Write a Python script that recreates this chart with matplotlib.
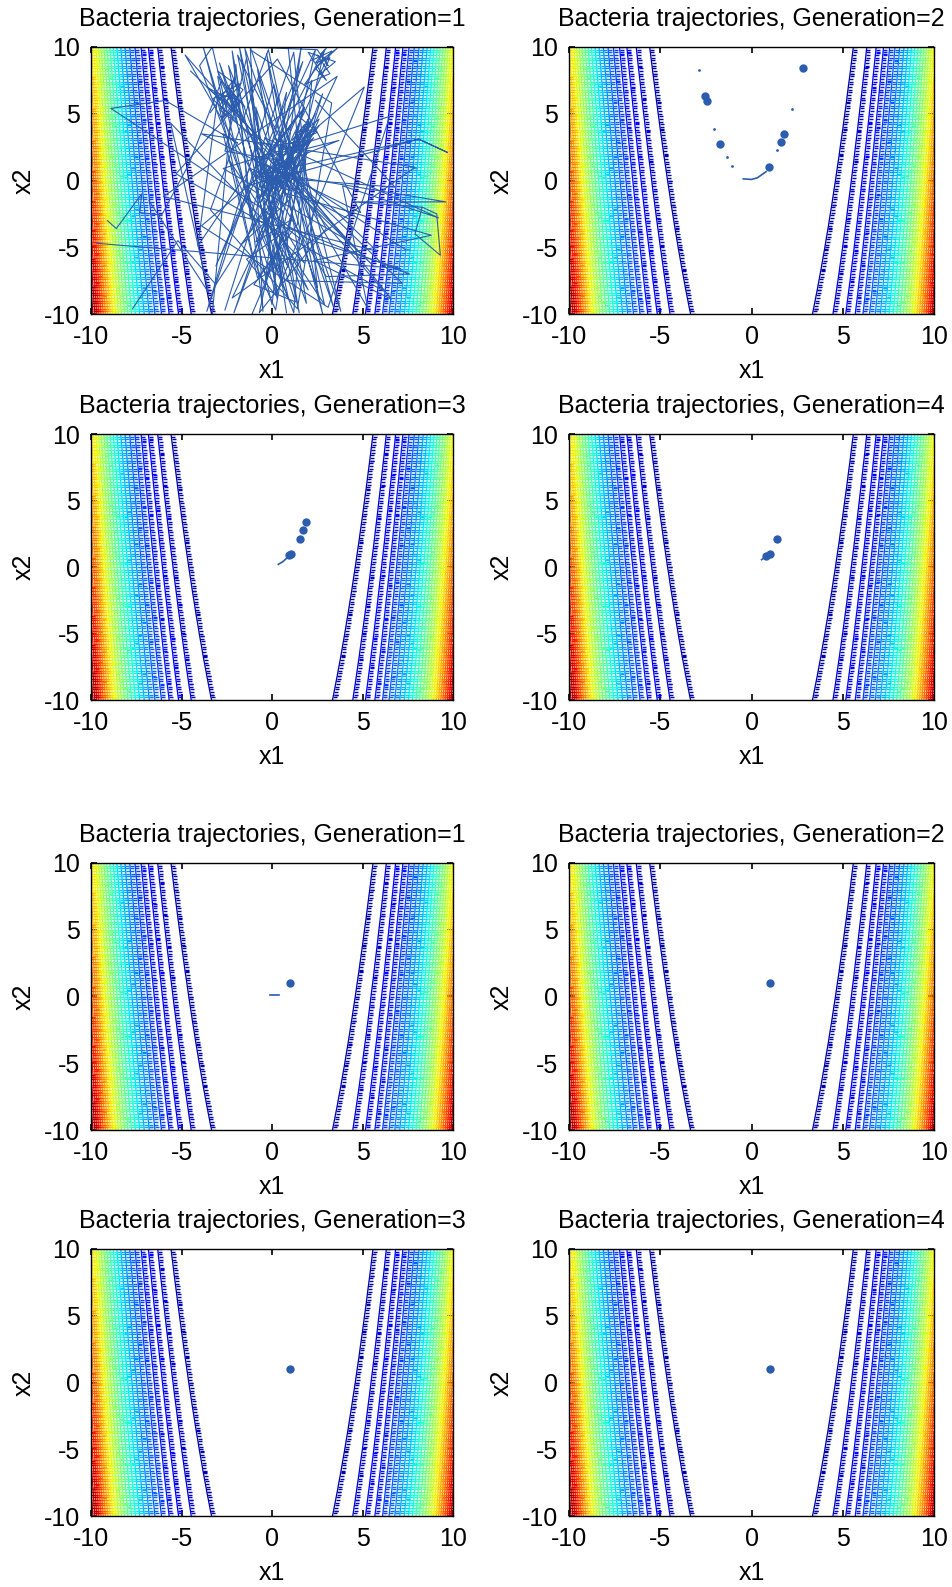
import numpy as np
import matplotlib.pyplot as plt
from matplotlib.path import Path
from matplotlib.colors import Normalize

plt.rcParams['font.family'] = ['Liberation Sans', 'DejaVu Sans']
plt.rcParams['font.size'] = 18
plt.rcParams['axes.unicode_minus'] = False

# Rosenbrock cost surface on the search domain
grid = np.arange(-10, 10.001, 0.2)
X1, X2 = np.meshgrid(grid, grid)
Z = 100 * (X2 - X1**2)**2 + (1 - X1)**2
levels = np.linspace(Z.min(), Z.max(), 28)[1:-1]

# run 1, generation 1: chemotactic paths of the bacteria
run1_gen1_x = [
    [-7.7, -5.2, -3.1, -0.6, 0.4, -0.8, 0.5, -0.3, 0.9, -0.6, 0.3, 1.1, -0.9, 0.6,
     -0.2, 0.8, -0.5, 0.2, 1.0, 2.1, 1.4, 2.4, 1.7, 0.8, 2.2, 1.3, 3.8, -1.2],
    [-9.1, -8.6, -7.2, -7.3, -6.1, -4.6, -2.8, -2.0, -3.2, -1.8, -2.6, -3.0, -1.5,
     -2.3, -2.9, -1.9, -2.4, -0.4, 0.1, -0.7, 2.9, 0.3, -1.1],
    [8.3, 9.1, 9.3, 7.9, 8.3, 4.5, 9.6, 1.2, -0.2, 0.6, 3.0, 7.6, 0.9, 1.9, 2.6,
     1.1, 1.8, -2.1, 0.4, 8.1, 9.7, 8.1, 0.5],
    [-1.6, 2.5, 3.1, 2.7, 3.0, 2.4, 3.2, 2.9, 0.7, -0.5, 0.3, -3.8, -2.5, -1.0,
     0.2, 1.5, 2.8, -0.3, 1.6, 0.4, -0.9, 5.6, 1.0],
    [-9.7, 7.1, 2.0, -8.9, -5.9, -1.9, -2.7, -0.8, 1.4, 1.8, 0.3, -4.0, -3.3, 0.0,
     0.6, -1.4, 1.6, 0.9],
    [-3.3, -2.0, -1.2, 0.8, -0.4, 1.3, -2.6, -1.4, -0.1, 1.2, 2.2, -0.6, 0.5, 3.7,
     -0.2, 1.0, -1.7, 2.0, 0.2, -0.9],
    [4.4, 0.1, -0.4, 0.9, -1.2, -4.1, -3.0, -2.1, -0.3, 0.7, -0.7, 1.9, 2.3, 1.5,
     1.1, 0.2, -0.6, 6.8, 2.4],
    [-1.2, -0.5, -2.2, 0.3, -1.8, 1.5, -0.8, 2.8, -0.3, 1.9, -2.9, 0.6, -1.5, 3.4,
     0.1, -3.6, 1.2, 2.5, -0.9, 0.8],
    [0.2, 1.6, 0.9, 2.0, 1.2, 2.3, 0.6, 1.8, -0.2, 1.4, 2.5, 0.4, 1.0, 2.1, -0.6,
     1.7, 0.8, 2.6, 1.3, -0.4, 0.5, 1.9, 0.0, 1.1],
    [-3.4, -2.1, -2.8, -1.6, -3.0, -2.2, -1.3, -2.7, -3.6, -1.9, -2.4, -0.9, -2.9,
     -1.7, -3.3, -2.0],
    [0.4, -0.9, 1.1, -0.3, 0.7, -1.4, 0.2, 1.5, -0.6, 0.9, -0.1, 1.3, -1.0, 0.5,
     2.0, -0.4],
    [-4.5, 5.8, -6.0, 3.6, -2.2, 7.9, -3.9, 4.9, 0.3, -5.3, 6.2, -1.0],
    [2.2, 3.3, 2.6, 3.5, 2.0, 3.0, 2.4, 3.6, 2.8, 1.8, 3.2, 2.5],
    [-6.8, -3.5, -5.6, 1.8, -4.8, 4.2, -2.7, 6.5, 3.1, -3.9, 5.1, 0.8, 7.2, -1.6],
    [-2.6, 1.7, -3.1, 2.4, -0.7, 3.0, -1.9, 0.9, -2.4, 2.9, -0.2, -3.4, 1.4, 3.3,
     -1.1],
    [0.6, 8.8, 2.3, 6.6, -0.4, 9.2, 3.9, 5.3, 1.1, 7.4],
]
run1_gen1_y = [
    [-9.6, -4.5, -7.8, -2.5, 0.6, 0.6, -0.4, 1.2, 0.1, -0.5, 0.9, -0.8, 0.2, 1.4,
     -1.0, 0.5, 0.0, -0.6, 2.2, 4.4, 2.8, 5.0, 3.1, 1.6, 3.8, 3.6, -9.8, 10.0],
    [-3.0, -3.6, -1.0, -2.4, -2.6, 1.2, 7.4, 5.2, 6.6, 6.0, 4.8, 7.8, 5.5, 6.8,
     5.6, 4.3, 7.1, 1.0, -0.3, 0.4, 9.8, -5.5, -10.0],
    [-2.0, -2.5, -5.6, -4.0, -2.0, -1.6, -1.6, 0.3, 1.0, -1.8, -7.2, -7.0, -3.5,
     2.5, 4.6, 3.0, 4.2, -9.9, 0.2, 3.1, 2.1, 3.1, 0.8],
    [10.0, 9.8, 8.6, 9.5, 9.9, 8.8, 9.2, 8.3, 2.0, -2.2, -8.9, 10.0, 3.3, -6.0,
     -9.7, 0.7, 6.5, -4.0, 9.9, -3.0, 2.6, -6.4, -0.4],
    [-4.7, -6.6, -4.4, 5.4, 6.0, 2.8, 3.5, -7.3, -3.3, 1.6, -6.8, 8.6, 10.0, -9.3,
     -2.3, -0.4, 0.7, 9.9],
    [-10.0, 8.7, -2.8, 6.6, -8.1, 1.3, 2.2, 9.2, -5.2, -9.9, 7.5, -1.6, 1.9, 3.0,
     0.9, -1.4, -4.8, 2.2, -0.8, 1.7],
    [-3.0, 0.1, 0.6, -0.3, 0.9, -4.9, 6.2, 6.4, 0.4, 1.2, -1.3, 3.4, 4.0, 2.4,
     1.9, -1.1, 0.3, -0.5, 6.0],
    [10.0, -9.8, 9.7, -8.5, 10.0, -9.9, 8.3, -10.0, 9.5, -9.2, 8.8, -7.6, 9.9,
     -9.5, 7.2, -9.8, 9.6, -8.0, 5.5, -9.9],
    [-0.5, 3.8, 1.1, 4.6, 2.0, 3.2, 0.3, 5.5, 1.8, 4.9, 3.6, 2.4, -0.2, 2.9, 1.5,
     5.2, 0.9, 4.1, 1.6, -0.9, 2.7, 3.0, 0.6, 4.3],
    [5.1, 7.6, 4.5, 6.8, 8.2, 5.9, 4.0, 6.3, 7.0, 5.0, 8.6, 3.2, 5.3, 7.3, 6.1, 4.6],
    [-1.2, -4.6, -2.9, -7.1, -3.8, -5.9, -8.6, -4.3, -2.1, -6.5, -3.4, -9.1, -7.8,
     -5.0, -8.2, -1.5],
    [8.2, -5.3, -1.2, 7.8, -8.8, 1.0, 3.5, -2.4, 9.1, 0.5, -8.3, 2.9],
    [9.0, 9.7, 7.9, 8.9, 9.6, 7.5, 8.4, 9.9, 9.1, 7.2, 8.0, 9.4],
    [-1.5, -8.4, 4.3, -6.2, 9.4, -4.5, 0.9, 4.8, -9.5, -3.4, 7.0, -7.5, -7.7, 3.9],
    [-9.7, 8.9, -6.4, 9.8, -9.9, -3.6, 9.4, -8.8, 1.6, -9.3, 9.8, -2.2, -9.6, 5.8,
     9.7],
    [-0.9, -4.1, -6.0, -8.9, 3.2, -2.8, -0.4, -9.6, 0.4, -5.2],
]

# later generations: clumps of bacteria, small specks and short trails
run1_gen2_clump_x = [-2.55, -2.45, -1.7, 0.98, 1.6, 1.78, 2.8]
run1_gen2_clump_y = [6.35, 5.95, 2.7, 1.0, 2.9, 3.45, 8.4]
run1_gen2_speck_x = [-2.9, -2.05, -1.35, -1.05, 1.42, 2.2]
run1_gen2_speck_y = [8.3, 3.85, 1.75, 1.05, 2.3, 5.35]
run1_gen2_trail_x = [-0.45, 0.0, 0.32, 0.55, 0.8]
run1_gen2_trail_y = [0.12, 0.08, 0.2, 0.42, 0.66]

run1_gen3_clump_x = [1.86, 1.7, 1.55, 0.96, 1.05]
run1_gen3_clump_y = [3.4, 2.8, 2.1, 0.9, 1.0]
run1_gen3_trail_x = [0.35, 0.6, 0.8, 0.96]
run1_gen3_trail_y = [0.2, 0.4, 0.65, 0.9]

run1_gen4_clump_x = [0.8, 1.0, 1.4]
run1_gen4_clump_y = [0.85, 1.0, 2.1]
run1_gen4_trail_x = [0.55, 0.8, 1.0]
run1_gen4_trail_y = [0.55, 0.8, 1.0]

run2_gen1_clump_x = [1.0]
run2_gen1_clump_y = [1.0]
run2_gen1_trail_x = [-0.1, 0.4]
run2_gen1_trail_y = [0.1, 0.1]

run2_late_clump_x = [1.0]
run2_late_clump_y = [1.0]

traj_color = '#2b5cad'
tick_mark = Path([[0, 0], [1, 0]], [Path.MOVETO, Path.LINETO])


def draw_surface(ax):
    norm = Normalize(Z.min(), Z.max())
    cols = plt.cm.jet(norm(levels))
    cs = ax.contour(X1, X2, Z, levels=levels, colors=cols, linewidths=0.9)
    for p, c in zip(cs.get_paths(), cols):
        v = p.vertices
        if len(v):
            ax.plot(v[:, 0], v[:, 1], ls='none', marker=tick_mark, ms=5.5,
                    mew=1.0, color=c)


def setup(ax, gen):
    ax.set_xlim(-10, 10)
    ax.set_ylim(-10, 10)
    ax.set_xticks([-10, -5, 0, 5, 10])
    ax.set_yticks([-10, -5, 0, 5, 10])
    ax.tick_params(direction='in', top=True, right=True, length=4, width=1.2,
                   pad=8)
    ax.set_xlabel('x1', labelpad=7)
    ax.set_ylabel('x2', labelpad=6)
    ax.set_title('Bacteria trajectories, Generation=%d' % gen, fontsize=18, pad=15)
    for s in ax.spines.values():
        s.set_linewidth(1.0)


fig = plt.figure(figsize=(9.53, 15.87), dpi=100)
W, H = 953, 1587
rows = [(47, 314), (434, 700), (863, 1130), (1249, 1516)]
cols_px = [(91, 453), (569, 934)]

axes = []
for top, bot in rows:
    for l, r in cols_px:
        ax = fig.add_axes([l / W, 1 - bot / H, (r - l) / W, (bot - top) / H])
        draw_surface(ax)
        axes.append(ax)

gens = [1, 2, 3, 4, 1, 2, 3, 4]
for ax, g in zip(axes, gens):
    setup(ax, g)

# run 1
for xs, ys in zip(run1_gen1_x, run1_gen1_y):
    axes[0].plot(xs, ys, color=traj_color, lw=0.8)

axes[1].plot(run1_gen2_trail_x, run1_gen2_trail_y, color=traj_color, lw=1.2)
axes[1].plot(run1_gen2_clump_x, run1_gen2_clump_y, 'o', color=traj_color, ms=6, mew=0)
axes[1].plot(run1_gen2_speck_x, run1_gen2_speck_y, 'o', color=traj_color, ms=2, mew=0)

axes[2].plot(run1_gen3_trail_x, run1_gen3_trail_y, color=traj_color, lw=1.2)
axes[2].plot(run1_gen3_clump_x, run1_gen3_clump_y, 'o', color=traj_color, ms=6, mew=0)

axes[3].plot(run1_gen4_trail_x, run1_gen4_trail_y, color=traj_color, lw=1.2)
axes[3].plot(run1_gen4_clump_x, run1_gen4_clump_y, 'o', color=traj_color, ms=6, mew=0)

# run 2
axes[4].plot(run2_gen1_trail_x, run2_gen1_trail_y, color=traj_color, lw=1.2)
axes[4].plot(run2_gen1_clump_x, run2_gen1_clump_y, 'o', color=traj_color, ms=6, mew=0)
for ax in axes[5:]:
    ax.plot(run2_late_clump_x, run2_late_clump_y, 'o', color=traj_color, ms=6, mew=0)

fig.savefig('out.png', dpi=100)
